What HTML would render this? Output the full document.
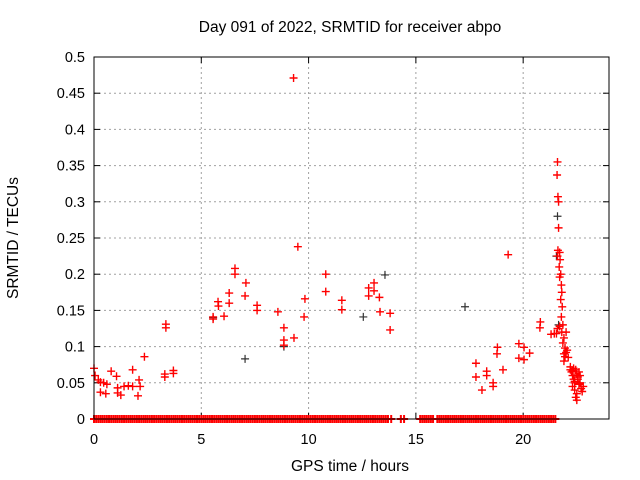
<!DOCTYPE html>
<html><head><meta charset="utf-8"><style>
body{margin:0;background:#fff}
svg{display:block;font-family:"Liberation Sans",sans-serif}
</style></head><body>
<svg id="chart" width="640" height="480">
<text x="350" y="32" text-anchor="middle" font-size="15.5">Day 091 of 2022, SRMTID for receiver abpo</text>
<text x="350" y="471" text-anchor="middle" font-size="15.5">GPS time / hours</text>
<text transform="translate(18,238) rotate(-90)" text-anchor="middle" font-size="15.5">SRMTID / TECUs</text>
<g id="grid"></g><g id="ticks"></g><g id="marks"></g>
<rect x="94" y="57" width="515" height="362" fill="none" stroke="#000" stroke-width="1"/>
</svg>
<script>
const xTicks=[0,5,10,15,20];
const yTicks=[0,0.05,0.1,0.15,0.2,0.25,0.3,0.35,0.4,0.45,0.5];
const yTickLabels=["0","0.05","0.1","0.15","0.2","0.25","0.3","0.35","0.4","0.45","0.5"];
const redT=[0,0.05,0.2,0.3,0.45,0.6,0.3,0.55,0.8,1.05,1.1,1.1,1.25,1.4,1.6,1.8,1.8,2.05,2.1,2.15,2.35,3.35,3.35,3.3,3.3,3.7,3.7,
5.55,5.55,5.78,5.8,6.06,6.3,6.3,6.57,6.57,7.08,7.04,7.6,7.6,8.57,8.85,8.85,8.85,9.32,9.83,9.79,9.3,9.5,10.8,10.8,11.55,11.55,12.8,12.8,13.05,13.05,13.3,13.33,13.8,13.8,
17.8,17.8,18.08,18.3,18.3,18.6,18.6,18.78,18.8,19.06,19.3,19.8,19.8,20.04,20.04,20.3,20.78,20.8,21.3,21.45,
21.6,21.58,21.62,21.65,21.65,21.62,21.6,21.7,21.72,21.68,21.75,21.7,21.78,21.8,21.75,21.82,21.78,21.85,21.8,21.9,21.85,21.95,21.9,21.95,22.0,21.6,21.55,21.7,21.9,22.0,22.05,22.1,
22.2,22.25,22.3,22.35,22.4,22.3,22.45,22.5,22.4,22.55,22.6,22.5,22.35,22.45,22.55,22.65,22.7,22.6,22.75,22.8,22.5,22.4,22.65,22.3,22.2];
const redV=[0.070,0.060,0.054,0.051,0.050,0.048,0.037,0.035,0.066,0.059,0.043,0.036,0.033,0.045,0.046,0.068,0.045,0.032,0.054,0.045,0.086,0.131,0.126,0.062,0.058,0.067,0.063,
0.141,0.138,0.162,0.156,0.142,0.174,0.160,0.208,0.200,0.188,0.170,0.157,0.150,0.148,0.126,0.109,0.102,0.112,0.166,0.141,0.471,0.238,0.200,0.176,0.164,0.151,0.181,0.170,0.188,0.177,0.168,0.148,0.146,0.123,
0.077,0.058,0.040,0.066,0.060,0.050,0.045,0.090,0.099,0.068,0.227,0.104,0.084,0.099,0.082,0.091,0.126,0.134,0.117,0.118,
0.355,0.337,0.307,0.300,0.264,0.233,0.225,0.230,0.220,0.210,0.200,0.196,0.185,0.175,0.165,0.155,0.141,0.130,0.120,0.112,0.105,0.098,0.090,0.086,0.092,0.125,0.118,0.128,0.080,0.120,0.095,0.085,
0.072,0.065,0.060,0.055,0.050,0.045,0.068,0.062,0.040,0.055,0.048,0.035,0.070,0.030,0.058,0.050,0.042,0.065,0.038,0.045,0.026,0.052,0.060,0.066,0.068];
const blackT=[5.55,7.04,8.85,12.55,13.56,17.29,21.6,21.55,21.65];
const blackV=[0.140,0.083,0.100,0.141,0.199,0.155,0.280,0.225,0.130];
const zeroT=[0,0.1,0.2,0.3,0.4,0.5,0.6,0.7,0.8,0.9,1.0,1.1,1.2,1.3,1.4,1.5,1.6,1.7,1.8,1.9,2.0,2.1,2.2,2.3,2.4,2.5,2.6,2.7,2.8,2.9,3.0,3.1,3.2,3.3,3.4,3.5,3.6,3.7,3.8,3.9,4.0,4.1,4.2,4.3,4.4,4.5,4.6,4.7,4.8,4.9,5.0,5.1,5.2,5.3,5.4,5.5,5.6,5.7,5.8,5.9,6.0,6.1,6.2,6.3,6.4,6.5,6.6,6.7,6.8,6.9,7.0,7.1,7.2,7.3,7.4,7.5,7.6,7.7,7.8,7.9,8.0,8.1,8.2,8.3,8.4,8.5,8.6,8.7,8.8,8.9,9.0,9.1,9.2,9.3,9.4,9.5,9.6,9.7,9.8,9.9,10.0,10.1,10.2,10.3,10.4,10.5,10.6,10.7,10.8,10.9,11.0,11.1,11.2,11.3,11.4,11.5,11.6,11.7,11.8,11.9,12.0,12.1,12.2,12.3,12.4,12.5,12.6,12.7,12.8,12.9,13.0,13.1,13.2,13.3,13.4,13.5,13.6,13.7,13.85,14.3,14.45,
15.2,15.3,15.4,15.5,15.6,15.7,15.8,16.0,16.1,16.2,16.3,16.4,16.5,16.6,16.7,16.8,16.9,17.0,17.1,17.2,17.3,17.4,17.5,17.6,17.7,17.8,17.9,18.0,18.1,18.2,18.3,18.4,18.5,18.6,18.7,18.8,18.9,19.0,19.1,19.2,19.3,19.4,19.5,19.6,19.7,19.8,19.9,20.0,20.1,20.2,20.3,20.4,20.5,20.6,20.7,20.8,20.9,21.0,21.1,21.2,21.3,21.4,21.5];
const NS="http://www.w3.org/2000/svg";
const X0=94,X1=609,Y0=419,Y1=57;
function sx(t){return X0+(t-0)/(24-0)*(X1-X0);}
function sy(v){return Y0-(v-0)/(0.5-0)*(Y0-Y1);}
function mk(tag,a,parent){const e=document.createElementNS(NS,tag);for(const k in a)e.setAttribute(k,a[k]);parent.appendChild(e);return e;}
const grid=document.getElementById('grid'),ticks=document.getElementById('ticks'),marks=document.getElementById('marks');
yTicks.forEach((v,i)=>{const y=sy(v);
 if(i>0&&i<yTicks.length-1){const g=mk('line',{x1:X0,x2:X1,y1:y,y2:y,stroke:'#a0a0a0','stroke-dasharray':'2,3'},grid);
 
 }
 mk('line',{x1:X0,x2:X0+6,y1:y,y2:y,stroke:'#000'},ticks);mk('line',{x1:X1,x2:X1-6,y1:y,y2:y,stroke:'#000'},ticks);
 const t=mk('text',{x:X0-9,y:y+5,'text-anchor':'end','font-size':'14.5'},ticks);t.textContent=yTickLabels[i];
 
 });
xTicks.forEach(v=>{const x=sx(v);
 if(v>0){const g=mk('line',{x1:x,x2:x,y1:Y0,y2:Y1,stroke:'#a0a0a0','stroke-dasharray':'2,3'},grid);
 
 }
 mk('line',{x1:x,x2:x,y1:Y0,y2:Y0-6,stroke:'#000'},ticks);mk('line',{x1:x,x2:x,y1:Y1,y2:Y1+6,stroke:'#000'},ticks);
 const t=mk('text',{x:x,y:Y0+25,'text-anchor':'middle','font-size':'14.5'},ticks);t.textContent=v;
 
 });
function plus(t,v,c,name,w){const x=sx(t),y=sy(v);
 const p=mk('path',{d:`M${x-4},${y}H${x+4}M${x},${y-4}V${y+4}`,stroke:c,'stroke-width':w,fill:'none'},marks);
 
 }
zeroT.forEach(t=>plus(t,0,'#f00','zero-point','2'));
blackT.forEach((t,i)=>plus(t,blackV[i],'#333','black-point','1.2'));
redT.forEach((t,i)=>plus(t,redV[i],'#f00','red-point','1.4'));
mk('line',{x1:X0,x2:X1,y1:Y0,y2:Y0,stroke:'#000'},marks);
</script>
</body></html>
